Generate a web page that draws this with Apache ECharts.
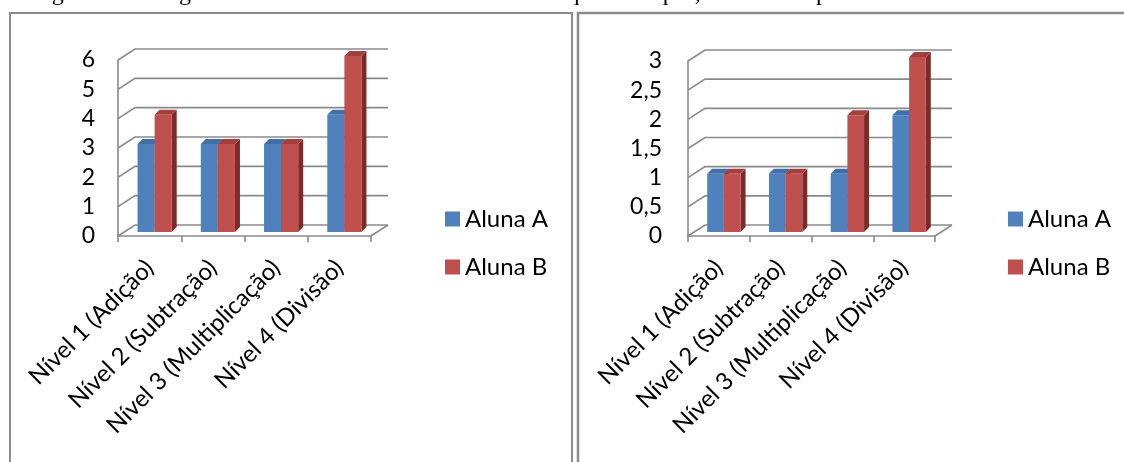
<!DOCTYPE html>
<html><head><meta charset="utf-8">
<script src="https://cdn.jsdelivr.net/npm/echarts@6/dist/echarts.min.js"></script>
<style>html,body{margin:0;padding:0;background:#fff}#c{width:1124px;height:462px}</style>
</head><body><div id="c"></div>
<script>
const categories = ['Nível 1 (Adição)', 'Nível 2 (Subtração)', 'Nível 3 (Multiplicação)', 'Nível 4 (Divisão)'];
const seriesNames = ['Aluna A', 'Aluna B'];
const leftA = [3, 3, 3, 4];
const leftB = [4, 3, 3, 6];
const rightA = [1, 1, 1, 2];
const rightB = [1, 1, 2, 3];
const leftTicks = [0, 1, 2, 3, 4, 5, 6];
const rightTicks = [0, 0.5, 1, 1.5, 2, 2.5, 3];
const headerText = 'a seguir estão os gráficos com a média das atividades em quatro etapas, sendo uma para cada nível.';

const FONT = 'Lato';
const colors = {
  A: {front: '#4F81BD', top: '#3F6EA8', side: '#2F5684'},
  B: {front: '#C0504D', top: '#A33F3C', side: '#7E2A28'}
};
const GRID = '#8a8a8a';
const WALL_DX = 17, WALL_DY = -11;
const BAR_DX = 5, BAR_DY = -4, BAR_D = 5;

function wallRender(params, api) {
  const cs = params.coordSys;
  const v = api.value(0);
  const y = api.coord([0, v])[1];
  const x0 = cs.x, x1 = cs.x + cs.width;
  const children = [{
    type: 'polyline',
    shape: {points: [[x0, y], [x0 + WALL_DX, y + WALL_DY], [x1 + WALL_DX, y + WALL_DY]]},
    style: {stroke: GRID, lineWidth: 1.6, fill: null}
  }];
  if (params.dataIndex === 0) {
    children.push({type: 'line', shape: {x1: x1, y1: y, x2: x1 + WALL_DX, y2: y + WALL_DY},
      style: {stroke: GRID, lineWidth: 1.6}});
  }
  return {type: 'group', children: children};
}

function barRender(which) {
  return function (params, api) {
    const idx = api.value(0), v = api.value(1);
    const c = api.coord([idx, v]);
    const b = api.coord([idx, 0]);
    const band = api.size([1, 0])[0];
    const w = band * 0.27;
    const xl = (which === 'A' ? c[0] - w : c[0]) + BAR_DX;
    const ty = c[1] + BAR_DY, by = b[1] + BAR_DY;
    const col = colors[which];
    return {type: 'group', children: [
      {type: 'polygon', shape: {points: [[xl + w, ty], [xl + w + BAR_D, ty - BAR_D], [xl + w + BAR_D, by - BAR_D], [xl + w, by]]},
        style: {fill: col.side}},
      {type: 'polygon', shape: {points: [[xl, ty], [xl + w, ty], [xl + w + BAR_D, ty - BAR_D], [xl + BAR_D, ty - BAR_D]]},
        style: {fill: col.top}},
      {type: 'rect', shape: {x: xl, y: ty, width: w, height: by - ty}, style: {fill: col.front}}
    ]};
  };
}

const legendText = {color: '#000', fontFamily: FONT, fontSize: 24, lineHeight: 24};

function xAxis(gi) {
  return {type: 'category', gridIndex: gi, data: categories, boundaryGap: true,
    axisLine: {show: true, lineStyle: {color: GRID, width: 1.6}},
    axisTick: {show: true, length: 6, lineStyle: {color: GRID, width: 1.6}},
    axisLabel: {rotate: 45, margin: 28, interval: 0, color: '#000', fontFamily: FONT, fontSize: 24},
    splitLine: {show: false}};
}
function yAxis(gi, max, interval, margin, padTop) {
  return {type: 'value', gridIndex: gi, min: 0, max: max, interval: interval,
    axisLine: {show: true, lineStyle: {color: GRID, width: 1.6}},
    axisTick: {show: false}, splitLine: {show: false},
    axisLabel: {margin: margin, padding: [padTop, 0, 0, 0], color: '#000', fontFamily: FONT, fontSize: 23,
      formatter: v => String(v).replace('.', ',')}};
}

const chart = echarts.init(document.getElementById('c'), null, {renderer: 'canvas'});
chart.setOption({
  animation: false,
  backgroundColor: '#fff',
  grid: [
    {left: 118, top: 60, width: 253, height: 176},
    {left: 688, top: 61, width: 247, height: 175}
  ],
  xAxis: [xAxis(0), xAxis(1)],
  yAxis: [yAxis(0, 6, 1, 23, 4), yAxis(1, 3, 0.5, 26, 6)],
  legend: [
    {data: seriesNames, orient: 'vertical', left: 440, top: 202, icon: 'rect', itemWidth: 15, itemHeight: 15,
      itemGap: 24, textStyle: legendText},
    {data: seriesNames, orient: 'vertical', left: 1003, top: 202, icon: 'rect', itemWidth: 15, itemHeight: 15,
      itemGap: 24, textStyle: legendText}
  ],
  graphic: [
    {type: 'rect', shape: {x: 10, y: 13, width: 562, height: 470}, style: {fill: null, stroke: '#8c8c8c', lineWidth: 2}, silent: true},
    {type: 'rect', shape: {x: 578, y: 13, width: 600, height: 470}, style: {fill: null, stroke: '#8c8c8c', lineWidth: 2.5}, silent: true},
    {type: 'text', x: 15, y: 6, style: {text: headerText, fontFamily: 'Liberation Serif', fontSize: 24, fill: '#000', verticalAlign: 'bottom', align: 'left'}, silent: true}
  ],
  series: [
    {type: 'custom', name: 'walls-l', xAxisIndex: 0, yAxisIndex: 0, renderItem: wallRender, data: leftTicks.map(v => [v]), z: 1, silent: true},
    {type: 'custom', name: 'walls-r', xAxisIndex: 1, yAxisIndex: 1, renderItem: wallRender, data: rightTicks.map(v => [v]), z: 1, silent: true},
    {type: 'custom', name: 'Aluna A', xAxisIndex: 0, yAxisIndex: 0, renderItem: barRender('A'), itemStyle: {color: colors.A.front}, data: leftA.map((v, i) => [i, v]), z: 3},
    {type: 'custom', name: 'Aluna B', xAxisIndex: 0, yAxisIndex: 0, renderItem: barRender('B'), itemStyle: {color: colors.B.front}, data: leftB.map((v, i) => [i, v]), z: 3},
    {type: 'custom', name: 'Aluna A', xAxisIndex: 1, yAxisIndex: 1, renderItem: barRender('A'), itemStyle: {color: colors.A.front}, data: rightA.map((v, i) => [i, v]), z: 3},
    {type: 'custom', name: 'Aluna B', xAxisIndex: 1, yAxisIndex: 1, renderItem: barRender('B'), itemStyle: {color: colors.B.front}, data: rightB.map((v, i) => [i, v]), z: 3}
  ]
});
</script></body></html>
